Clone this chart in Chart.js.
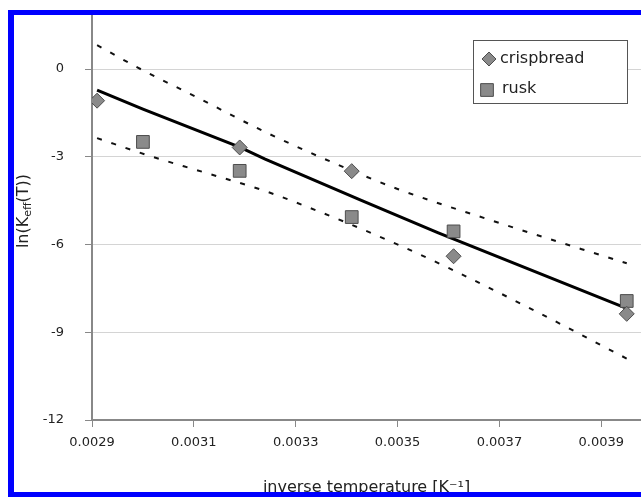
<!DOCTYPE html>
<html>
<head>
<meta charset="utf-8">
<script src="https://cdn.jsdelivr.net/npm/chart.js@4.4.1/dist/chart.umd.min.js"></script>
<style>
  html, body { margin: 0; padding: 0; background: #ffffff; }
  #wrap { position: relative; width: 641px; height: 497px; overflow: hidden; }
  canvas { display: block; }
</style>
</head>
<body>
<div id="wrap"><canvas id="c" width="641" height="497"></canvas></div>
<script>
// ---- data ----
const crispX = [0.00291, 0.00319, 0.00341, 0.00361, 0.00395];
const crispY = [-1.08, -2.68, -3.49, -6.40, -8.37];
const ruskX  = [0.00300, 0.00319, 0.00341, 0.00361, 0.00395];
const ruskY  = [-2.49, -3.48, -5.06, -5.55, -7.93];
const fitX   = [0.00291, 0.00300, 0.00319, 0.00324, 0.00343, 0.00358, 0.00395];
const fitY   = [-0.72, -1.37, -2.67, -3.08, -4.50, -5.60, -8.18];
const upperX = [0.00291, 0.00299, 0.00311, 0.00324, 0.00338, 0.00350, 0.00368, 0.00386, 0.00395];
const upperY = [0.82, 0.05, -1.00, -2.15, -3.25, -4.10, -5.15, -6.15, -6.64];
const lowerX = [0.00291, 0.00301, 0.00312, 0.00324, 0.00335, 0.00349, 0.00360, 0.00376, 0.00395];
const lowerY = [-2.36, -2.95, -3.53, -4.17, -4.90, -5.92, -6.80, -8.18, -9.90];
const xTicks = [0.0029, 0.0031, 0.0033, 0.0035, 0.0037, 0.0039];
const yTicks = [-12, -9, -6, -3, 0];
const seriesNames = ['crispbread', 'rusk'];
const xTitle = 'inverse temperature [K\u207B\u00B9]';
const yTitleParts = ['ln(K', 'eff', '(T))'];

const pts = (xs, ys) => xs.map((x, i) => ({ x: x, y: ys[i] }));

const FONT = "'DejaVu Sans', sans-serif";
const markerFill = '#8a8a8a';
const markerBorder = '#4d4d4d';

const overlay = {
  id: 'overlay',
  afterDraw(chart) {
    const ctx = chart.ctx;
    const H = Chart.helpers;
    ctx.save();
    // legend box
    const lx = 473, ly = 40, lw = 154, lh = 63;
    ctx.fillStyle = '#ffffff';
    ctx.fillRect(lx, ly, lw, lh);
    ctx.strokeStyle = '#555555';
    ctx.lineWidth = 1;
    ctx.strokeRect(lx + 0.5, ly + 0.5, lw, lh);
    ctx.fillStyle = markerFill; ctx.strokeStyle = markerBorder; ctx.lineWidth = 1;
    H.drawPoint(ctx, { pointStyle: 'rectRot', radius: 7, borderWidth: 1 }, 489, 59);
    ctx.fillStyle = markerFill;
    H.drawPoint(ctx, { pointStyle: 'rect', radius: 9, borderWidth: 1 }, 487, 90);
    ctx.fillStyle = '#222222';
    ctx.font = '16px ' + FONT;
    ctx.textBaseline = 'middle';
    ctx.textAlign = 'left';
    ctx.fillText(seriesNames[0], 500, 59);
    ctx.fillText(seriesNames[1], 502, 89);

    // y axis title with subscript
    ctx.translate(22, 211);
    ctx.rotate(-Math.PI / 2);
    const big = '16px ' + FONT, small = '11px ' + FONT;
    ctx.font = big; const w1 = ctx.measureText(yTitleParts[0]).width;
    const w3 = ctx.measureText(yTitleParts[2]).width;
    ctx.font = small; const w2 = ctx.measureText(yTitleParts[1]).width;
    let x0 = -(w1 + w2 + w3) / 2;
    ctx.textBaseline = 'alphabetic';
    ctx.font = big; ctx.fillText(yTitleParts[0], x0, 6);
    ctx.font = small; ctx.fillText(yTitleParts[1], x0 + w1, 9);
    ctx.font = big; ctx.fillText(yTitleParts[2], x0 + w1 + w2, 6);
    ctx.restore();

    // blue frame
    ctx.save();
    ctx.fillStyle = '#0000ff';
    ctx.fillRect(8, 10, 6, 487);
    ctx.fillRect(8, 10, 633, 5);
    ctx.fillRect(8, 492, 633, 5);
    ctx.restore();
  }
};

new Chart(document.getElementById('c'), {
  type: 'scatter',
  data: {
    datasets: [
      { label: seriesNames[0], data: pts(crispX, crispY), pointStyle: 'rectRot', pointRadius: 7.5,
        backgroundColor: markerFill, borderColor: markerBorder, borderWidth: 1, showLine: false },
      { label: seriesNames[1], data: pts(ruskX, ruskY), pointStyle: 'rect', pointRadius: 9,
        backgroundColor: markerFill, borderColor: markerBorder, borderWidth: 1, showLine: false },
      { label: 'fit', data: pts(fitX, fitY), showLine: true, pointRadius: 0, borderColor: '#000000',
        borderWidth: 3, tension: 0 },
      { label: 'upper', data: pts(upperX, upperY), showLine: true, pointRadius: 0, borderColor: '#111111',
        borderWidth: 2, borderDash: [5, 10], cubicInterpolationMode: 'monotone' },
      { label: 'lower', data: pts(lowerX, lowerY), showLine: true, pointRadius: 0, borderColor: '#111111',
        borderWidth: 2, borderDash: [5, 10], cubicInterpolationMode: 'monotone' }
    ]
  },
  options: {
    responsive: false,
    animation: false,
    devicePixelRatio: 1,
    layout: { autoPadding: false, padding: { top: 15, right: 0, left: 0, bottom: 0 } },
    plugins: { legend: { display: false }, tooltip: { enabled: false } },
    scales: {
      x: {
        type: 'linear', min: 0.0029, max: 0.003978,
        afterBuildTicks: s => { s.ticks = xTicks.map(v => ({ value: v })); },
        afterFit: s => { s.height = 77; s.paddingLeft = 0; s.paddingRight = 0; s.paddingTop = 0; s.paddingBottom = 0; },
        grid: { drawOnChartArea: false, drawTicks: true, tickLength: 7, tickColor: '#888888', tickWidth: 1 },
        border: { color: '#888888', width: 2 },
        ticks: { padding: 8, color: '#222222', font: { family: FONT, size: 13 },
                 callback: v => v.toFixed(4), maxRotation: 0 },
        title: { display: true, text: xTitle, color: '#222222', font: { family: FONT, size: 16 },
                 padding: { top: 0, bottom: 0 } }
      },
      y: {
        type: 'linear', min: -12, max: 1.85,
        afterBuildTicks: s => { s.ticks = yTicks.map(v => ({ value: v })); },
        afterFit: s => { s.width = 92; s.paddingTop = 0; s.paddingBottom = 0; s.paddingLeft = 0; s.paddingRight = 0; },
        grid: { color: '#d4d4d4', lineWidth: 1, drawTicks: true, tickLength: 7, tickColor: '#888888' },
        border: { color: '#888888', width: 2 },
        ticks: { padding: 21, color: '#222222', font: { family: FONT, size: 13 } }
      }
    }
  },
  plugins: [overlay]
});
</script>
</body>
</html>
